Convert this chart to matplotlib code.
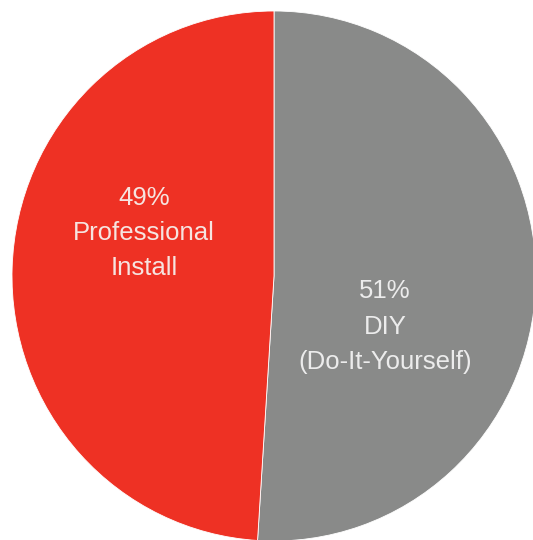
import matplotlib.pyplot as plt

# install method share (%)
labels = ["DIY\n(Do-It-Yourself)", "Professional\nInstall"]
shares = [51, 49]
colors = ["#898a89", "#ee3124"]
text_colors = ["#ececec", "#f6e4e0"]

# where each label block sits (data units, pie radius = 1)
label_pos = [(0.424, -0.192), (-0.496, 0.162)]

fig = plt.figure(figsize=(5.33, 5.40), dpi=100)
ax = fig.add_axes([0, 0, 1, 1])

wedges, _ = ax.pie(shares, colors=colors, startangle=90, counterclock=False,
                   wedgeprops=dict(edgecolor="white", linewidth=0.6))

for (x, y), share, label, tc in zip(label_pos, shares, labels, text_colors):
    ax.text(x, y, f"{share}%\n{label}", ha="center", va="center",
            fontsize=18.5, color=tc, family="Liberation Sans", linespacing=1.6)

ax.set_xlim(-274 / 262, (533 - 274) / 262)
ax.set_ylim((276 - 540) / 265, 276 / 265)
ax.set_aspect("auto")
ax.axis("off")

fig.savefig("out.png", dpi=100, facecolor="white")
